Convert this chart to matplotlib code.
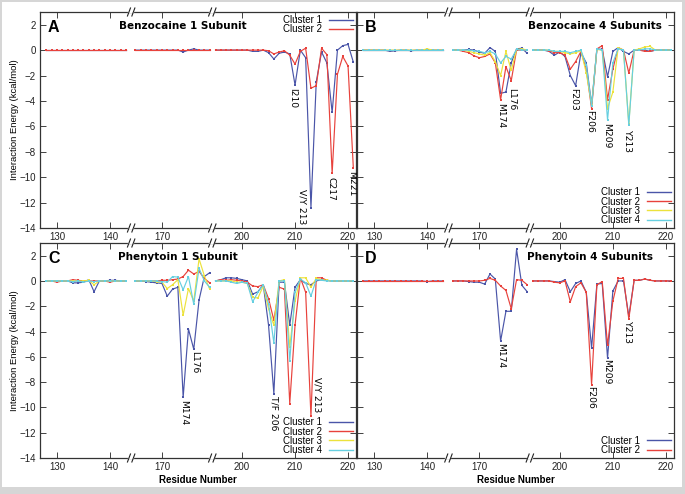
import numpy as np
import matplotlib
matplotlib.use("Agg")
import matplotlib.pyplot as plt
from matplotlib.lines import Line2D
from matplotlib.patches import Rectangle

# residues shown in the three pieces of the broken x axis
res_seg1 = [128, 129, 130, 131, 132, 133, 134, 135, 136, 137, 138, 139, 140, 141, 142, 143]
res_seg2 = [165, 166, 167, 168, 169, 170, 171, 172, 173, 174, 175, 176, 177, 178, 179]
res_seg3 = [195, 196, 197, 198, 199, 200, 201, 202, 203, 204, 205, 206, 207, 208, 209,
            210, 211, 212, 213, 214, 215, 216, 217, 218, 219, 220, 221]
residues = np.array(res_seg1 + res_seg2 + res_seg3)

x_ticks = [130, 140, 170, 200, 210, 220]
y_ticks = [2, 0, -2, -4, -6, -8, -10, -12, -14]
clusters = ["Cluster 1", "Cluster 2", "Cluster 3", "Cluster 4"]

# --- A: Benzocaine 1 subunit
a_c1 = ([0, 0, 0, 0, 0, 0, 0, 0, 0, 0, 0, 0, 0, 0, 0, 0]
        + [0, 0, 0, 0, 0, 0, 0, 0, 0, -0.15, 0, 0.1, 0, 0, 0]
        + [0, 0, 0, 0, 0, 0, 0, -0.1, -0.1, 0, -0.2, -0.7, -0.25, -0.15, -0.3, -2.75, 0, -0.6,
           -12.4, -2.5, -0.15, -1.0, -4.9, 0, 0.35, 0.45, -0.95])
a_c2 = ([0, 0, 0, 0, 0, 0, 0, 0, 0, 0, 0, 0, 0, 0, 0, 0]
        + [0, 0, 0, 0, 0, 0, 0, 0, 0, 0, 0, 0, 0, 0, 0]
        + [0, 0, 0, 0, 0, 0, 0, 0, 0, 0, -0.05, -0.3, -0.15, -0.05, -0.4, -1.1, -0.1, 0.15,
           -3.0, -2.8, 0.15, -0.35, -9.7, -1.9, -0.5, -1.25, -9.3])

# --- B: Benzocaine 4 subunits
b_c1 = ([0, 0, 0, 0, 0, -0.1, -0.05, 0, 0, -0.05, 0, 0, 0.05, 0, 0, 0]
        + [0, 0, 0, 0.05, 0, -0.15, -0.25, 0.2, -0.1, -3.4, -3.3, -1.0, 0.1, 0.15, -0.25]
        + [0, 0, 0, -0.1, -0.4, -0.15, -0.5, -2.0, -2.8, -0.2, -1.0, -4.3, 0.1, 0.05, -2.1,
           -0.1, 0.2, -0.1, -0.3, 0, 0, 0, -0.1, 0, 0, 0, 0])
b_c2 = ([0, 0, 0, 0, 0, 0, 0, 0, 0, 0, 0, 0, 0, 0, 0, 0]
        + [0, 0, -0.1, -0.2, -0.45, -0.6, -0.5, -0.3, -1.0, -3.9, -1.3, -2.4, 0, 0, 0]
        + [0, 0, 0, -0.05, -0.2, -0.2, -0.4, -1.5, -0.9, -0.1, -1.5, -4.6, 0.1, 0.35, -3.9,
           -1.5, 0.2, 0, -1.8, 0, 0, -0.1, -0.1, 0, 0, 0, 0])
b_c3 = ([0, 0, 0, 0, 0, 0, 0, 0, 0, 0, 0, 0, 0.1, 0, 0, 0]
        + [0, 0, 0, -0.1, -0.2, -0.3, -0.4, -0.2, -0.9, -2.0, -0.1, -1.6, 0.05, 0.1, 0]
        + [0, 0, 0, 0, -0.1, -0.1, -0.2, -0.3, -0.2, -0.05, -1.8, -4.3, 0.05, 0, -4.6,
           -3.3, 0.2, 0, -5.8, 0, 0.1, 0.25, 0.3, 0, 0, 0, 0])
b_c4 = ([0, 0, 0, 0, 0, 0, 0, 0, 0, 0, 0, 0, 0, 0, 0, 0]
        + [0, 0, 0, 0, -0.05, -0.1, -0.2, -0.1, -0.3, -1.0, -0.5, -0.7, 0.05, 0, 0]
        + [0, 0, 0, 0, -0.1, -0.1, -0.1, -0.2, -0.1, 0, -1.2, -4.4, 0.1, 0, -5.5,
           -1.0, 0.1, 0, -5.9, 0, 0, 0.1, 0.1, 0, 0, 0, 0])

# --- C: Phenytoin 1 subunit
c_c1 = ([0, 0, 0, 0, 0, -0.15, -0.15, -0.1, 0.1, -0.85, 0, 0, 0.05, 0.05, 0, 0]
        + [0, 0, -0.05, -0.1, -0.15, -0.2, -1.2, -0.65, -0.5, -9.2, -3.8, -5.4, -1.5, 0.35, 0.65]
        + [0, 0.1, 0.25, 0.25, 0.2, 0.1, 0, -1.05, -0.85, -0.3, -3.5, -8.9, -0.1, -0.1, -3.5,
           -0.5, 0.1, -0.2, -0.3, 0, 0.1, 0.05, 0, 0, 0, 0, 0])
c_c2 = ([0, 0, -0.1, 0, 0, 0.1, 0.05, 0, 0, 0, 0, 0, -0.1, 0, 0, 0]
        + [0, 0, 0, 0, 0, 0.05, 0.05, 0.1, 0.15, 0.35, 0.85, 0.55, 0.75, 0.2, -0.15]
        + [0, 0.1, 0.05, 0.1, 0.05, 0, -0.1, -0.4, -0.45, -0.3, -1.4, -3.1, -0.5, -0.65, -9.7,
           -3.5, 0.25, -0.9, -10.7, 0.25, 0.25, 0.05, 0, 0, 0, 0, 0])
c_c3 = ([0, 0, 0, 0, 0, 0, 0, 0, 0.05, -0.3, 0, 0, 0, 0, 0, 0]
        + [0, 0, 0, 0, -0.05, -0.1, -0.6, -0.3, 0.1, -2.7, -0.6, -1.6, 1.75, 0.4, -0.65]
        + [0, 0, 0, 0, -0.1, -0.1, -0.2, -1.3, -1.35, -0.4, -2.2, -3.5, 0, 0.1, -5.2,
           -1.6, 0.25, 0.25, -0.5, 0.2, 0.1, 0.05, 0, 0, 0, 0, 0])
c_c4 = ([0, 0, 0, 0, 0, -0.05, 0, -0.1, 0, -0.05, 0, 0, 0, 0, 0, 0]
        + [0, 0, 0, 0, 0, -0.05, -0.1, 0.35, 0.3, -0.7, 0.35, -1.85, 1.0, 0, -0.5]
        + [0, 0, 0, -0.1, -0.2, -0.1, -0.2, -1.65, -0.9, -0.3, -1.8, -4.9, 0, 0, -6.3,
           -0.9, 0.15, -0.15, -1.2, 0.1, 0.05, 0, 0, 0, 0, 0, 0])

# --- D: Phenytoin 4 subunits
d_c1 = ([0, 0, 0, 0, 0, 0, 0, 0, 0, 0, 0, 0, -0.05, 0, 0, 0]
        + [0, 0, 0, -0.05, -0.1, -0.1, -0.25, 0.55, 0.15, -4.75, -2.4, -2.4, 2.5, -0.35, -0.85]
        + [0, 0, 0, 0, -0.05, -0.1, 0.1, -0.85, -0.2, 0, -0.9, -5.3, -0.25, -0.2, -6.1,
           -0.8, 0, 0, -2.8, 0.05, 0.05, 0.15, 0.05, 0, 0, 0, 0])
d_c2 = ([0, 0, 0, 0, 0, 0, 0, 0, 0, 0, 0, 0, 0, 0, 0, 0]
        + [0, 0, 0, 0, 0, 0, 0.05, 0.2, 0.05, -0.4, -0.75, -2.2, 0.1, 0.05, -0.3]
        + [0, 0, 0, 0, -0.1, -0.15, 0, -1.65, -0.45, -0.15, -0.9, -8.2, -0.3, -0.05, -5.1,
           -1.6, 0.2, 0.2, -3.0, 0.05, 0.05, 0.15, 0.05, 0, 0, 0, 0])

# residue labels: text, residue, energy just below the point
a_labels = [("I210", 209.6, -3.0), ("V/Y 213", 211.4, -10.9), ("C217", 216.7, -10.0), ("M221", 220.6, -9.5)]
b_labels = [("M174", 174.0, -4.15), ("L176", 176.0, -2.95), ("F203", 202.7, -3.0),
            ("F206", 205.7, -4.75), ("M209", 208.8, -5.7), ("Y213", 212.8, -6.3)]
c_labels = [("M174", 174.0, -9.4), ("L176", 176.1, -5.5), ("T/F 206", 206.0, -9.1), ("V/Y 213", 214.1, -7.6)]
d_labels = [("M174", 174.0, -4.9), ("F206", 205.8, -8.3), ("M209", 208.8, -6.2), ("Y213", 212.8, -3.15)]

colors = ["#4a55a8", "#e8423c", "#ece23c", "#66cfe0"]

# broken axis: the gaps between pieces are squeezed to almost nothing
XMIN, XMAX = 126.8, 221.5
XP = [0.0, XMIN, 144.0, 164.2, 179.5, 194.4, XMAX, 400.0]
FP = [0.0]
for i in range(1, len(XP)):
    step = XP[i] - XP[i - 1]
    if i in (3, 5):
        step = 0.01
    FP.append(FP[-1] + step)


def fwd(x):
    return np.interp(x, XP, FP)


def inv(y):
    return np.interp(y, FP, XP)


segs = [slice(0, 16), slice(16, 31), slice(31, 58)]

fig = plt.figure(figsize=(6.85, 4.94), dpi=100)
fig.patch.set_facecolor("#d6d6d6")
fig.add_artist(Rectangle((2 / 685, 7 / 494), 680 / 685, 485 / 494, transform=fig.transFigure,
                         facecolor="white", edgecolor="none", zorder=-10))

W, H = 685, 494
boxes = {
    "A": [40 / W, (H - 228) / H, 316 / W, 216 / H],
    "B": [357 / W, (H - 228) / H, 317 / W, 216 / H],
    "C": [40 / W, (H - 458) / H, 316 / W, 215 / H],
    "D": [357 / W, (H - 458) / H, 317 / W, 215 / H],
}

panels = [
    ("A", "Benzocaine 1 Subunit", [a_c1, a_c2], a_labels, 183, "upper right"),
    ("B", "Benzocaine 4 Subunits", [b_c1, b_c2, b_c3, b_c4], b_labels, 595, "lower right"),
    ("C", "Phenytoin 1 Subunit", [c_c1, c_c2, c_c3, c_c4], c_labels, 178, "lower right"),
    ("D", "Phenytoin 4 Subunits", [d_c1, d_c2], d_labels, 590, "lower right"),
]

sans = "Liberation Sans"

for letter, title, series, labels, title_x, leg_loc in panels:
    ax = fig.add_axes(boxes[letter])
    ax.set_xscale("function", functions=(fwd, inv))
    for k, vals in enumerate(series):
        vals = np.array(vals, dtype=float)
        assert len(vals) == len(residues)
        for s in segs:
            ax.plot(residues[s], vals[s], "-s", color=colors[k], lw=0.85, ms=2.0, mew=0)
    ax.set_xlim(XMIN, XMAX)
    ax.set_ylim(-14, 3)
    ax.set_xticks(x_ticks)
    ax.set_yticks(y_ticks)
    ax.tick_params(direction="in", top=True, right=True, length=4, width=0.6,
                   labelsize=7, pad=3, colors="#222222")
    for lab in ax.get_xticklabels() + ax.get_yticklabels():
        lab.set_fontfamily(sans)
    for sp in ax.spines.values():
        sp.set_linewidth(0.9)
        sp.set_color("#333333")
    if letter in ("B", "D"):
        ax.set_yticklabels([])
    else:
        ax.set_ylabel("Interaction Energy (kcal/mol)", fontsize=6.8, family=sans, labelpad=0.5)
    if letter in ("C", "D"):
        ax.set_xlabel("Residue Number", fontsize=7, family=sans, fontweight="bold", labelpad=2)

    # panel letter and title
    ax.text(0.025, 0.965, letter, transform=ax.transAxes, fontsize=11.5, fontweight="bold",
            ha="left", va="top", family=sans)
    tx = (title_x - boxes[letter][0] * W) / (boxes[letter][2] * W)
    ax.text(tx, 0.935, title, transform=ax.transAxes, fontsize=7.5, fontweight="bold",
            ha="center", va="center")

    for txt, xr, yv in labels:
        ax.text(xr, yv, txt, rotation=-90, ha="center", va="top", fontsize=6.6)

    handles = [Line2D([], [], color=colors[k], lw=1.0) for k in range(len(series))]
    ax.legend(handles, clusters[:len(series)], loc=leg_loc, frameon=False, markerfirst=False,
              prop={"family": sans, "size": 7}, handlelength=2.5, handletextpad=0.7,
              labelspacing=-0.08, borderpad=0.0, borderaxespad=0.3)

    # "//" marks where the axis is broken
    span = fwd(XMAX) - fwd(XMIN)
    pxx = 1 / (boxes[letter][2] * W)
    pxy = 1 / (boxes[letter][3] * H)
    for xb in (144.0, 179.5):
        f = (fwd(xb) - fwd(XMIN)) / span
        for yb in (0.0, 1.0):
            ax.plot([f - 2 * pxx, f + 2 * pxx], [yb, yb], color="white", lw=1.6,
                    transform=ax.transAxes, clip_on=False, zorder=5)
            for dx in (-2.2, 2.2):
                ax.plot([f + (dx - 1.5) * pxx, f + (dx + 1.5) * pxx], [yb - 4 * pxy, yb + 4 * pxy],
                        color="#222222", lw=0.8, transform=ax.transAxes, clip_on=False, zorder=6)

fig.savefig("out.png", dpi=100)
